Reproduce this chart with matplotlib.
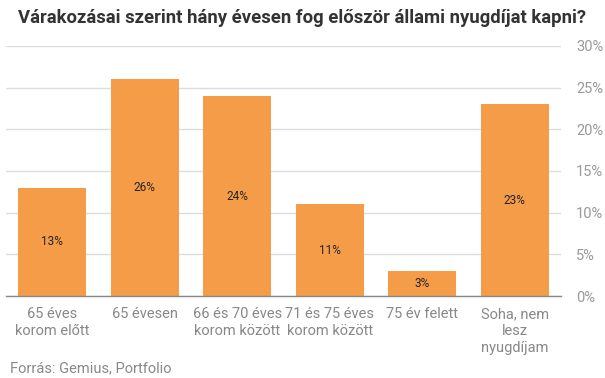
import numpy as np
import matplotlib.pyplot as plt

categories = [
    "65 éves\nkorom előtt",
    "65 évesen",
    "66 és 70 éves\nkorom között",
    "71 és 75 éves\nkorom között",
    "75 év felett",
    "Soha, nem\nlesz\nnyugdíjam",
]
values = [13, 26, 24, 11, 3, 23]
y_ticks = [0, 5, 10, 15, 20, 25, 30]

plt.rcParams["font.family"] = ["Roboto", "DejaVu Sans"]

fig = plt.figure(figsize=(6.05, 3.78), dpi=100)
ax = fig.add_axes([6 / 605, 1 - 296 / 378, 555 / 605, 250 / 378])

x = np.arange(len(categories))
bars = ax.bar(x, values, width=0.73, color="#F59C48", zorder=2)
for b, v in zip(bars, values):
    ax.text(b.get_x() + b.get_width() / 2, v / 2, f"{v}%",
            ha="center", va="center", fontsize=8.5, color="#222222", zorder=3)

ax.set_xlim(-0.5, len(categories) - 0.5)
ax.set_ylim(0, 30)
ax.set_yticks(y_ticks)
ax.set_yticklabels([f"{t}%" for t in y_ticks])
ax.yaxis.tick_right()
ax.grid(axis="y", color="#dddddd", linewidth=1, zorder=0)
for s in ["top", "left", "right"]:
    ax.spines[s].set_visible(False)
ax.spines["bottom"].set_color("#888888")
ax.spines["bottom"].set_linewidth(1)
ax.spines["bottom"].set_zorder(3)
ax.tick_params(axis="y", length=0, pad=11, labelsize=10.5, labelcolor="#999999")
ax.tick_params(axis="x", length=0, pad=8, labelsize=10.5, labelcolor="#888888")
ax.set_xticks(x)
ax.set_xticklabels(categories, linespacing=1.25, va="top")

fig.text(18 / 605, 1 - 18 / 378, "Várakozásai szerint hány évesen fog először állami nyugdíjat kapni?",
         fontsize=13.3, fontweight="bold", color="#333333", va="center", ha="left")
fig.text(10 / 605, 1 - 368 / 378, "Forrás: Gemius, Portfolio",
         fontsize=10.5, color="#888888", va="center", ha="left")

fig.savefig("out.png", dpi=100)
